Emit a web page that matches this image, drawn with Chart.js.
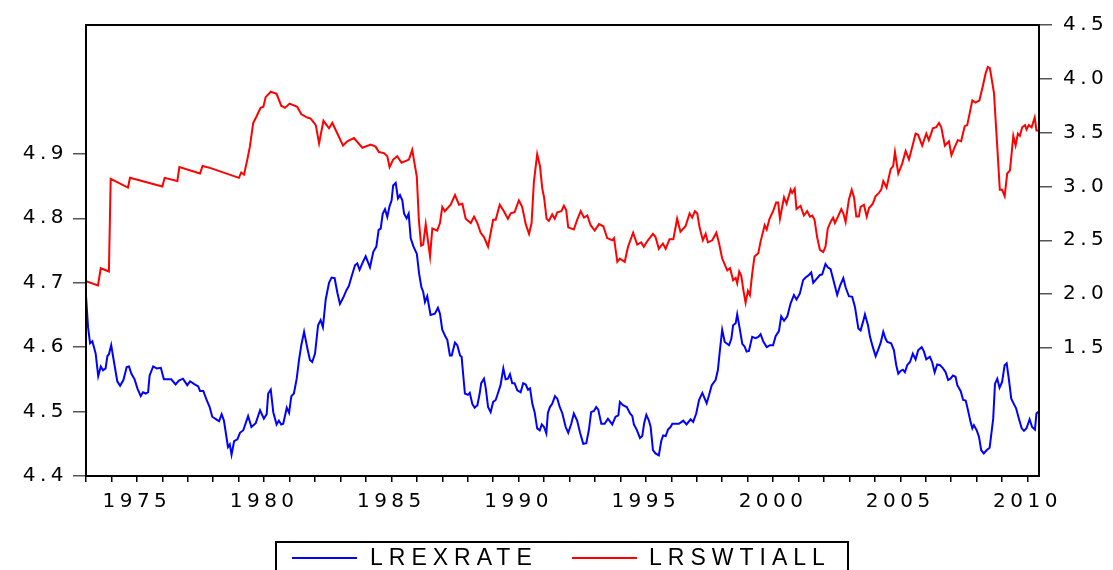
<!DOCTYPE html>
<html>
<head>
<meta charset="utf-8">
<script src="https://cdn.jsdelivr.net/npm/chart.js@4.4.1/dist/chart.umd.min.js"></script>
<style>
  body { margin: 0; background: #fff; }
  #wrap { width: 1113px; height: 570px; }
</style>
</head>
<body>
<div id="wrap"><canvas id="myChart" width="1113" height="570"></canvas></div>
<script>
// Adatok (havi idősor, leolvasva)
const exDates = [1973.00,1973.08,1973.16,1973.25,1973.38,1973.48,1973.58,1973.67,1973.77,1973.84,1973.90,1973.99,1974.10,1974.23,1974.34,1974.47,1974.60,1974.69,1974.78,1974.91,1975.02,1975.15,1975.24,1975.35,1975.44,1975.50,1975.64,1975.78,1975.94,1976.06,1976.35,1976.52,1976.65,1976.81,1976.98,1977.09,1977.24,1977.41,1977.48,1977.61,1977.74,1977.86,1977.96,1978.12,1978.23,1978.33,1978.42,1978.58,1978.65,1978.72,1978.82,1978.95,1979.05,1979.18,1979.37,1979.50,1979.67,1979.84,1979.99,1980.10,1980.16,1980.26,1980.36,1980.49,1980.58,1980.67,1980.75,1980.89,1980.98,1981.07,1981.17,1981.28,1981.37,1981.46,1981.57,1981.70,1981.80,1981.89,1982.00,1982.12,1982.22,1982.31,1982.42,1982.55,1982.65,1982.77,1982.88,1982.98,1983.11,1983.23,1983.33,1983.44,1983.57,1983.66,1983.75,1983.88,1983.99,1984.16,1984.29,1984.41,1984.50,1984.58,1984.66,1984.75,1984.84,1984.93,1985.01,1985.07,1985.17,1985.26,1985.34,1985.43,1985.50,1985.60,1985.68,1985.76,1985.87,1986.00,1986.09,1986.18,1986.25,1986.32,1986.41,1986.54,1986.71,1986.83,1986.91,1987.00,1987.13,1987.20,1987.30,1987.37,1987.50,1987.59,1987.70,1987.76,1987.83,1987.89,1988.01,1988.08,1988.18,1988.27,1988.38,1988.47,1988.53,1988.64,1988.71,1988.80,1988.90,1989.00,1989.10,1989.20,1989.29,1989.40,1989.49,1989.58,1989.66,1989.75,1989.84,1989.95,1990.08,1990.18,1990.28,1990.37,1990.45,1990.54,1990.63,1990.73,1990.83,1990.91,1991.00,1991.09,1991.15,1991.23,1991.32,1991.43,1991.52,1991.62,1991.72,1991.85,1991.95,1992.07,1992.17,1992.30,1992.41,1992.54,1992.66,1992.76,1992.85,1992.96,1993.05,1993.13,1993.25,1993.38,1993.51,1993.68,1993.81,1993.92,1993.98,1994.10,1994.25,1994.38,1994.47,1994.53,1994.64,1994.77,1994.86,1994.93,1995.02,1995.12,1995.19,1995.28,1995.38,1995.51,1995.61,1995.68,1995.78,1995.87,1995.97,1996.04,1996.30,1996.47,1996.60,1996.76,1996.86,1996.98,1997.09,1997.22,1997.39,1997.48,1997.59,1997.74,1997.83,1997.91,1998.00,1998.10,1998.27,1998.36,1998.43,1998.53,1998.59,1998.68,1998.79,1998.88,1998.96,1999.05,1999.18,1999.31,1999.42,1999.51,1999.61,1999.75,1999.88,2000.00,2000.10,2000.23,2000.32,2000.43,2000.56,2000.69,2000.82,2000.92,2001.05,2001.18,2001.28,2001.41,2001.50,2001.58,2001.71,2001.84,2001.93,2002.06,2002.15,2002.26,2002.39,2002.52,2002.63,2002.76,2002.85,2002.98,2003.11,2003.22,2003.35,2003.44,2003.54,2003.61,2003.73,2003.81,2003.92,2004.03,2004.12,2004.23,2004.33,2004.42,2004.49,2004.64,2004.75,2004.84,2004.92,2005.01,2005.10,2005.18,2005.27,2005.38,2005.49,2005.60,2005.70,2005.84,2005.93,2006.02,2006.16,2006.25,2006.35,2006.45,2006.56,2006.68,2006.78,2006.88,2006.97,2007.07,2007.17,2007.24,2007.37,2007.47,2007.57,2007.66,2007.76,2007.83,2007.89,2008.00,2008.09,2008.18,2008.28,2008.39,2008.51,2008.57,2008.65,2008.72,2008.81,2008.90,2009.00,2009.10,2009.18,2009.27,2009.36,2009.46,2009.55,2009.66,2009.77,2009.86,2009.96,2010.08,2010.18,2010.29,2010.35,2010.42];
const exValues = [4.680,4.631,4.606,4.609,4.590,4.555,4.570,4.564,4.567,4.586,4.589,4.603,4.577,4.547,4.540,4.549,4.569,4.570,4.559,4.550,4.536,4.524,4.530,4.528,4.530,4.556,4.570,4.567,4.568,4.550,4.550,4.542,4.548,4.551,4.541,4.547,4.543,4.539,4.532,4.532,4.518,4.507,4.492,4.488,4.485,4.496,4.486,4.445,4.449,4.433,4.454,4.457,4.467,4.471,4.493,4.476,4.482,4.502,4.489,4.496,4.528,4.534,4.499,4.480,4.486,4.480,4.481,4.506,4.498,4.524,4.528,4.551,4.580,4.603,4.624,4.598,4.580,4.577,4.590,4.634,4.642,4.631,4.674,4.700,4.708,4.707,4.684,4.667,4.677,4.688,4.695,4.710,4.727,4.730,4.720,4.732,4.741,4.724,4.748,4.756,4.782,4.784,4.807,4.814,4.802,4.819,4.828,4.851,4.855,4.831,4.836,4.828,4.807,4.800,4.807,4.769,4.756,4.745,4.714,4.693,4.686,4.670,4.679,4.650,4.652,4.661,4.652,4.627,4.616,4.611,4.587,4.587,4.607,4.603,4.587,4.585,4.554,4.528,4.526,4.529,4.512,4.506,4.510,4.528,4.544,4.551,4.536,4.507,4.499,4.515,4.518,4.530,4.541,4.567,4.550,4.551,4.558,4.544,4.544,4.533,4.530,4.544,4.542,4.534,4.536,4.512,4.499,4.474,4.471,4.480,4.476,4.466,4.498,4.507,4.512,4.524,4.520,4.507,4.497,4.476,4.467,4.481,4.497,4.486,4.468,4.450,4.451,4.471,4.499,4.501,4.507,4.503,4.481,4.481,4.489,4.480,4.492,4.494,4.515,4.510,4.507,4.497,4.493,4.480,4.472,4.459,4.462,4.481,4.495,4.486,4.476,4.440,4.435,4.432,4.455,4.463,4.462,4.472,4.476,4.481,4.481,4.486,4.480,4.488,4.484,4.497,4.518,4.529,4.513,4.525,4.541,4.549,4.564,4.595,4.627,4.608,4.603,4.613,4.634,4.637,4.651,4.631,4.605,4.601,4.593,4.594,4.616,4.614,4.616,4.620,4.609,4.600,4.603,4.603,4.617,4.625,4.648,4.641,4.648,4.668,4.681,4.674,4.683,4.704,4.708,4.712,4.716,4.700,4.706,4.712,4.713,4.729,4.724,4.721,4.701,4.681,4.695,4.707,4.693,4.679,4.678,4.662,4.629,4.626,4.640,4.651,4.634,4.616,4.600,4.586,4.595,4.607,4.624,4.613,4.608,4.606,4.595,4.572,4.559,4.563,4.565,4.561,4.572,4.577,4.590,4.581,4.595,4.600,4.593,4.581,4.585,4.577,4.561,4.573,4.572,4.567,4.561,4.549,4.551,4.556,4.554,4.541,4.532,4.518,4.517,4.502,4.484,4.474,4.479,4.471,4.461,4.440,4.435,4.440,4.444,4.463,4.489,4.543,4.551,4.537,4.546,4.572,4.575,4.549,4.520,4.512,4.505,4.489,4.474,4.470,4.474,4.488,4.476,4.472,4.497,4.500];

const oilDates = [1973.00,1973.47,1973.58,1973.90,1973.97,1974.65,1974.73,1976.00,1976.09,1976.59,1976.67,1977.48,1977.58,1977.90,1979.01,1979.10,1979.21,1979.34,1979.44,1979.57,1979.70,1979.86,1979.97,1980.06,1980.26,1980.49,1980.67,1980.82,1981.00,1981.30,1981.46,1981.70,1981.83,1982.03,1982.16,1982.33,1982.55,1982.68,1982.90,1983.10,1983.27,1983.53,1983.86,1984.19,1984.38,1984.51,1984.71,1984.84,1984.93,1985.07,1985.23,1985.40,1985.69,1985.82,1986.00,1986.08,1986.17,1986.25,1986.35,1986.52,1986.61,1986.80,1986.91,1987.00,1987.10,1987.33,1987.50,1987.66,1987.79,1987.92,1988.12,1988.25,1988.38,1988.51,1988.64,1988.80,1989.00,1989.10,1989.26,1989.42,1989.58,1989.69,1989.84,1990.01,1990.14,1990.28,1990.41,1990.51,1990.60,1990.73,1990.84,1990.93,1991.00,1991.10,1991.19,1991.32,1991.42,1991.52,1991.68,1991.78,1991.87,1991.95,1992.17,1992.30,1992.44,1992.57,1992.70,1992.83,1992.99,1993.16,1993.33,1993.48,1993.68,1993.75,1993.88,1993.98,1994.17,1994.30,1994.50,1994.66,1994.82,1994.92,1995.08,1995.28,1995.38,1995.51,1995.67,1995.78,1995.93,1996.08,1996.23,1996.36,1996.56,1996.72,1996.82,1996.93,1997.02,1997.11,1997.24,1997.35,1997.44,1997.61,1997.77,1997.87,1998.00,1998.20,1998.31,1998.43,1998.53,1998.59,1998.67,1998.75,1998.83,1998.92,1999.01,1999.09,1999.18,1999.27,1999.42,1999.51,1999.67,1999.75,1999.86,2000.00,2000.12,2000.20,2000.27,2000.43,2000.53,2000.69,2000.75,2000.85,2000.92,2001.08,2001.21,2001.34,2001.45,2001.54,2001.63,2001.73,2001.84,2001.97,2002.06,2002.15,2002.26,2002.36,2002.43,2002.55,2002.68,2002.76,2002.85,2002.98,2003.09,2003.18,2003.27,2003.37,2003.44,2003.57,2003.68,2003.77,2003.92,2004.03,2004.16,2004.25,2004.33,2004.46,2004.62,2004.72,2004.79,2004.92,2005.07,2005.21,2005.34,2005.47,2005.60,2005.70,2005.86,2006.02,2006.12,2006.28,2006.41,2006.52,2006.61,2006.75,2006.91,2007.01,2007.13,2007.26,2007.39,2007.53,2007.63,2007.83,2007.96,2008.11,2008.25,2008.35,2008.44,2008.52,2008.68,2008.81,2008.91,2009.00,2009.10,2009.20,2009.31,2009.44,2009.53,2009.62,2009.70,2009.79,2009.90,2009.96,2010.05,2010.16,2010.28,2010.35,2010.42];
const oilValues = [2.12,2.08,2.24,2.21,3.07,2.99,3.08,3.00,3.08,3.05,3.18,3.12,3.19,3.17,3.08,3.13,3.11,3.25,3.37,3.59,3.65,3.73,3.74,3.83,3.88,3.86,3.75,3.73,3.77,3.74,3.67,3.64,3.63,3.57,3.40,3.61,3.54,3.59,3.48,3.38,3.42,3.45,3.36,3.39,3.37,3.32,3.31,3.28,3.18,3.25,3.28,3.22,3.25,3.34,3.09,2.69,2.45,2.46,2.65,2.35,2.61,2.59,2.66,2.81,2.77,2.83,2.92,2.83,2.84,2.70,2.66,2.72,2.66,2.57,2.53,2.44,2.69,2.69,2.83,2.77,2.70,2.75,2.76,2.87,2.81,2.65,2.56,2.66,3.04,3.30,3.19,2.98,2.90,2.70,2.68,2.74,2.70,2.76,2.77,2.82,2.78,2.62,2.60,2.69,2.77,2.71,2.73,2.64,2.59,2.65,2.63,2.52,2.50,2.52,2.30,2.33,2.30,2.44,2.57,2.46,2.48,2.44,2.50,2.56,2.53,2.42,2.47,2.42,2.51,2.51,2.70,2.58,2.63,2.75,2.71,2.77,2.75,2.62,2.50,2.56,2.48,2.50,2.57,2.48,2.33,2.22,2.24,2.13,2.15,2.10,2.21,2.17,2.04,1.92,2.03,1.99,2.19,2.35,2.38,2.49,2.64,2.60,2.70,2.77,2.85,2.85,2.70,2.90,2.84,2.97,2.94,2.98,2.79,2.82,2.73,2.77,2.72,2.73,2.69,2.53,2.41,2.39,2.44,2.61,2.67,2.71,2.66,2.72,2.79,2.75,2.67,2.88,2.97,2.90,2.72,2.72,2.81,2.83,2.72,2.80,2.84,2.91,2.94,2.97,3.05,2.99,3.16,3.19,3.32,3.12,3.21,3.33,3.25,3.37,3.49,3.48,3.38,3.49,3.43,3.54,3.55,3.59,3.55,3.38,3.42,3.29,3.36,3.43,3.42,3.56,3.57,3.80,3.78,3.80,3.94,4.05,4.11,4.10,3.87,3.37,2.97,2.97,2.91,3.12,3.15,3.47,3.38,3.49,3.47,3.55,3.57,3.53,3.57,3.55,3.64,3.52,3.52];

const seriesNames = ['LREXRATE', 'LRSWTIALL'];
const leftTicks = [4.4, 4.5, 4.6, 4.7, 4.8, 4.9];
const rightTicks = [1.5, 2.0, 2.5, 3.0, 3.5, 4.0, 4.5];
const yearTicks = [];
for (let y = 1973; y <= 2010; y++) yearTicks.push(y);

const TICK_FONT = 'DejaVu Sans, sans-serif';
const LEGEND_FONT = 'Liberation Sans, Arial, sans-serif';

// Keret a rajzterület körül + egyedi jelmagyarázat
const framePlugin = {
    id: 'frame',
    beforeLayout(chart) { chart.ctx.letterSpacing = '4.5px'; },
    beforeDraw(chart) { chart.ctx.letterSpacing = '4.5px'; },
    afterDraw(chart) {
        const ctx = chart.ctx;
        const a = chart.chartArea;
        ctx.save();
        ctx.strokeStyle = '#000';
        ctx.lineWidth = 2;
        ctx.strokeRect(a.left, a.top, a.right - a.left, a.bottom - a.top);

        // jelmagyarázat doboz
        ctx.strokeRect(276, 542, 572, 40);
        ctx.font = '23px ' + LEGEND_FONT;
        ctx.letterSpacing = '6px';
        ctx.textBaseline = 'middle';
        ctx.fillStyle = '#000';
        const items = [{ x: 292, tx: 370 }, { x: 572, tx: 649 }];
        chart.data.datasets.forEach((ds, i) => {
            ctx.strokeStyle = ds.borderColor;
            ctx.lineWidth = 2;
            ctx.beginPath();
            ctx.moveTo(items[i].x, 558);
            ctx.lineTo(items[i].x + 65, 558);
            ctx.stroke();
            ctx.fillText(ds.label, items[i].tx, 559);
        });
        ctx.restore();
    }
};

const tickFont = { family: TICK_FONT, size: 20 };

const ctx = document.getElementById('myChart').getContext('2d');
new Chart(ctx, {
    type: 'line',
    data: {
        datasets: [
            {
                label: seriesNames[0],
                data: exDates.map((d, i) => ({ x: d, y: exValues[i] })),
                borderColor: '#0000FF',
                borderWidth: 2,
                pointRadius: 0,
                yAxisID: 'y'
            },
            {
                label: seriesNames[1],
                data: oilDates.map((d, i) => ({ x: d, y: oilValues[i] })),
                borderColor: '#FF0000',
                borderWidth: 2,
                pointRadius: 0,
                yAxisID: 'y1'
            }
        ]
    },
    options: {
        responsive: false,
        animation: false,
        devicePixelRatio: 1,
        layout: { padding: { top: 25, left: 0, right: 0, bottom: 0 } },
        plugins: { legend: { display: false }, tooltip: { enabled: false } },
        scales: {
            x: {
                type: 'linear',
                min: 1973,
                max: 2010.45,
                afterBuildTicks: s => { s.ticks = yearTicks.map(v => ({ value: v })); },
                afterFit: s => { s.height = 94; },
                ticks: {
                    autoSkip: false,
                    maxRotation: 0,
                    padding: 8,
                    color: '#000',
                    font: tickFont,
                    callback: v => (v % 5 === 0 ? String(v) : '')
                },
                grid: { display: true, drawOnChartArea: false, drawTicks: true, tickLength: 6, color: '#000', lineWidth: 1.5 },
                border: { display: false }
            },
            y: {
                position: 'left',
                min: 4.4,
                max: 5.1,
                afterBuildTicks: s => { s.ticks = leftTicks.map(v => ({ value: v })); },
                afterFit: s => { s.width = 86; },
                ticks: {
                    padding: 5,
                    color: '#000',
                    font: tickFont,
                    callback: v => v.toFixed(1)
                },
                grid: { display: true, drawOnChartArea: false, drawTicks: true, tickLength: 13, color: '#555', lineWidth: 1.5 },
                border: { display: false }
            },
            y1: {
                position: 'right',
                min: 0.31,
                max: 4.5,
                afterBuildTicks: s => { s.ticks = rightTicks.map(v => ({ value: v })); },
                afterFit: s => { s.width = 74; },
                ticks: {
                    padding: 11,
                    color: '#000',
                    font: tickFont,
                    callback: v => v.toFixed(1)
                },
                grid: { display: true, drawOnChartArea: false, drawTicks: true, tickLength: 13, color: '#555', lineWidth: 1.5 },
                border: { display: false }
            }
        }
    },
    plugins: [framePlugin]
});
</script>
</body>
</html>
